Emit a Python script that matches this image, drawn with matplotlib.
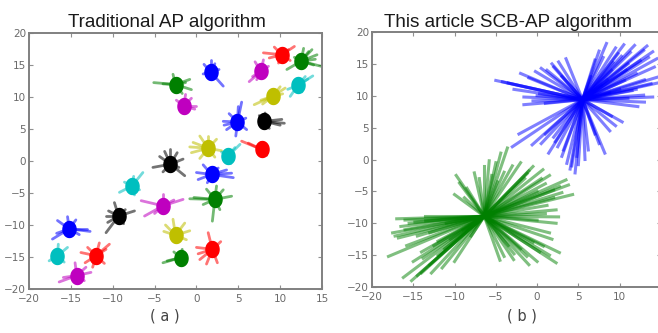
import numpy as np
import matplotlib
matplotlib.use("Agg")
import matplotlib.pyplot as plt
from matplotlib.path import Path

# ---------------- data: panel (a) ----------------
a_cx = [10.2, 12.5, 1.7, 7.7, -2.5, 12.1, -1.5, 9.1, 4.9, 8.1, 7.8, 1.4, 3.8,
        -3.1, 1.8, -7.7, 2.2, -4.0, -9.3, -15.2, -2.5, 1.9, -16.6, -12.0, -1.9, -14.3]
a_cy = [16.6, 15.6, 13.9, 14.0, 11.95, 11.8, 8.6, 10.1, 6.1, 6.2, 1.8, 2.0, 0.8,
        -0.5, -2.1, -3.9, -6.0, -7.0, -8.6, -10.6, -11.6, -13.8, -14.8, -14.8, -15.1, -17.9]
a_colors = ['r', 'g', 'b', 'm', 'g', 'c', 'm', 'y', 'b', 'k', 'r', 'y', 'c',
            'k', 'b', 'c', 'g', 'm', 'k', 'b', 'y', 'r', 'c', 'r', 'g', 'm']
# member offsets (dx, dy) for each cluster
a_members = [
    [(-2.2, 0.3), (1.5, 1.3), (1.0, -0.9), (-0.9, 1.2), (-0.4, -1.3), (-1.5, -0.5), (0.8, 0.8)],
    [(2.4, -0.8), (-1.7, -1.3), (0.3, 2.0), (1.3, 1.8), (1.9, 1.0), (1.7, 0.3), (0.9, 1.5), (-0.8, 0.6), (1.5, -0.6)],
    [(1.5, -2.2), (0.0, 1.9), (-0.8, 1.2), (1.0, 0.4), (-0.9, -0.3), (0.5, 1.3)],
    [(-1.4, -1.6), (0.3, 1.8), (-0.7, 1.5), (-1.0, -0.8), (0.9, 0.8), (-0.5, -1.3)],
    [(-2.6, 0.3), (1.7, 0.8), (1.9, -0.8), (-0.3, 1.6), (0.8, -1.4), (-1.5, 0.1), (1.2, 0.3)],
    [(1.8, 1.5), (-0.9, -1.7), (1.2, 1.0), (-1.2, -0.6), (0.9, 1.4), (0.5, -1.0)],
    [(1.5, 0.0), (0.2, 1.8), (0.9, 1.2), (-0.9, 0.9), (1.3, -0.5)],
    [(-2.2, -1.3), (1.5, 1.3), (-1.4, -0.6), (0.9, 1.5), (-1.2, -1.2), (1.2, 0.4)],
    [(0.5, 3.1), (0.1, 2.4), (-1.7, 0.1), (-1.3, -1.2), (-0.2, -2.2), (1.1, -1.2), (-1.0, 1.3), (-1.6, -0.5), (1.0, 0.6)],
    [(2.4, -0.3), (2.1, 0.3), (1.9, -0.6), (0.1, 1.3), (-0.6, 0.9), (0.6, -1.1)],
    [(-2.4, 1.3), (-1.6, 1.0), (-0.1, 1.1), (0.6, -0.9)],
    [(-1.8, 0.9), (-1.0, 1.9), (0.0, 1.9), (1.0, 1.4), (-2.0, -0.7), (1.6, -0.4), (-1.0, -1.6), (0.8, -1.4), (-2.2, 0.2)],
    [(1.4, 1.8), (0.8, 1.3), (-0.8, 0.6), (0.3, -1.2)],
    [(0.0, 2.3), (-0.7, 2.0), (-2.1, -0.5), (1.5, 0.8), (1.7, -1.8), (-1.3, 1.2), (0.8, 1.8), (-0.9, -1.2), (1.0, -0.5)],
    [(-1.8, 0.3), (2.6, -0.5), (2.4, 0.2), (-1.0, 1.5), (-1.6, -0.8), (1.8, 0.7), (0.8, 1.0), (-0.5, -1.3)],
    [(1.3, 2.1), (-1.5, -1.0), (0.2, 1.5), (-0.9, 0.6), (0.3, -1.4), (0.9, -0.6)],
    [(-3.0, 0.1), (-2.5, 0.3), (2.0, 0.5), (-0.3, -3.4), (0.2, 2.1), (-1.0, 1.6), (1.0, 1.5), (0.6, -1.6), (-1.4, -0.8)],
    [(2.4, 1.0), (-2.2, -1.6), (-2.6, 0.8), (0.0, 1.8), (1.3, 0.9), (-1.0, -1.2)],
    [(-0.5, 2.1), (1.9, 0.8), (-1.5, -2.6), (-1.5, 0.0), (-1.3, -1.0), (-1.2, 0.8), (0.8, 1.0), (0.6, -1.2)],
    [(2.5, -0.4), (2.1, 0.0), (-1.4, 1.3), (-2.0, -1.6), (-0.2, 1.9), (-1.5, -0.7), (0.8, 1.4), (1.2, -0.9)],
    [(-0.3, 2.5), (1.7, 0.7), (-1.4, 0.6), (1.1, 1.9), (-1.2, 1.6), (1.3, -0.7)],
    [(-1.9, 0.3), (-0.7, -2.3), (-0.5, 2.6), (-1.5, -1.6), (0.6, -2.1), (-1.7, -0.7), (1.0, 1.2)],
    [(0.1, 1.8), (1.2, 1.3), (-1.0, -0.8), (0.8, -1.0)],
    [(1.6, 1.8), (-1.8, 0.5), (-0.4, -1.8), (0.4, 2.0), (1.2, 1.0), (-1.3, -1.1), (1.0, -1.2), (-1.0, 1.3)],
    [(-2.1, -0.8), (-1.6, -0.5), (0.2, 1.3), (-0.8, 0.9)],
    [(-2.1, -1.0), (1.7, 0.5), (-0.2, 2.0), (-1.6, -0.3), (1.1, 1.3), (0.9, -0.8)],
]

# ---------------- data: panel (b) ----------------
b_blue_center = (5.5, 9.4)
b_blue_x = [-5.0, -3.5, -2.0, -1.0, 0.5, 1.2, 2.6, 2.0, -1.6, -1.6, -0.5, 0.3, 1.0, 3.0,
            -3.0, -0.6, 1.4, 0.5, 2.5, 3.6, 4.6, 4.2, 3.0, 2.0, 1.0, 4.8,
            8.2, 7.5, 10.3, 9.0, 7.0,
            8.4, 9.8, 11.8, 12.9, 14.2, 13.8, 12.2, 12.9, 10.6, 7.0, 7.5, 10.5, 11.0,
            13.5, 14.5, 14.8, 12.0, 9.0, 13.0, 11.5, 14.0, 8.5, 6.5, 10.0,
            9.5, 10.2, 11.3, 12.5, 13.3, 14.0, 14.6, 8.0, 9.2, 10.8, 12.0, 13.0, 11.0, 8.8, 7.8,
            -4.2, -2.8, -0.2, 1.8, 3.5, 0.0, -2.2, 2.2, 3.2, 4.0, 5.0, 5.8, 6.2, 8.8, 9.5]
b_blue_y = [12.4, 12.0, 13.5, 12.8, 14.3, 14.0, 15.3, 14.5, 9.8, 8.6, 9.2, 10.3, 8.8, 13.0,
            2.0, 2.3, 1.0, 2.5, 2.0, -0.6, -2.1, -1.0, 0.5, 3.5, 4.0, 0.5,
            1.0, 2.5, 5.9, 6.8, 4.0,
            18.2, 16.6, 17.9, 17.1, 14.5, 11.9, 8.3, 10.1, 12.4, 15.6, 17.0, 18.0, 15.0,
            16.0, 15.8, 13.0, 13.5, 14.0, 12.5, 10.8, 9.8, 12.5, 13.0, 11.0,
            17.5, 16.2, 16.8, 15.5, 17.8, 16.9, 12.0, 16.0, 15.2, 14.0, 11.0, 9.0, 9.6, 10.5, 11.6,
            12.2, 11.0, 13.8, 15.0, 15.8, 10.0, 4.0, 2.8, 1.5, -1.5, -0.8, 0.0, 1.5, 4.5, 5.3]
b_green_center = (-6.4, -8.9)
b_green_x = [-17.0, -16.8, -18.0, -16.2, -15.2, -14.0, -16.0, -13.6, -15.5, -14.5, -13.0, -17.2,
             -15.0, -13.0, -12.0, -11.5, -12.5, -16.5, -11.0, -14.0,
             -9.4, -7.6, -6.4, -8.5, -10.0, -7.0, -5.5,
             -3.6, -4.4, -5.0, -3.0, -4.0,
             3.5, 4.3, 2.7, 0.7, -0.5, 1.5, -1.5, 2.0, 0.0, 3.0, -1.0, 1.0,
             2.3, 2.3, 1.0, 0.0,
             2.7, 2.3, -1.25, -2.85, -4.0, 0.75, 1.5, -0.5, -2.0, 0.0, -3.5, 1.8,
             -17.5, -16.0, -14.8, -13.5, -12.0, -15.8, -14.5, -13.8, -12.8, -11.2, -10.5, -9.0,
             -8.0, -9.8, -8.8, -5.8, -4.8, -2.0, -1.2, 0.5, 2.0, 3.8, 1.2, 2.6, 1.5, 0.3,
             -1.0, -2.8, -4.5, -10.0]
b_green_y = [-9.3, -12.3, -15.2, -18.5, -19.0, -17.8, -11.0, -8.9, -10.0, -12.0, -11.5, -12.0,
             -16.0, -16.5, -15.0, -17.0, -13.5, -10.5, -10.0, -14.5,
             -3.7, -2.1, -1.0, -4.5, -5.5, -3.0, -2.5,
             1.8, 1.0, -0.5, -1.0, -2.0,
             -3.2, -5.5, -4.2, -1.6, -1.1, -2.5, -3.0, -6.0, -5.0, -5.2, -1.8, -3.8,
             -7.9, -10.0, -8.5, -9.5,
             -14.6, -16.2, -15.2, -15.7, -15.2, -13.6, -15.0, -13.0, -14.0, -16.0, -13.5, -12.5,
             -11.5, -9.5, -9.8, -9.6, -12.8, -13.5, -18.2, -15.5, -17.8, -14.0, -12.5, -11.0,
             -12.0, -2.5, -6.0, -0.2, -3.5, -0.5, -2.2, -3.0, -4.8, -4.0, -7.2, -9.0, -11.5, -14.5,
             -16.5, -14.8, -15.8, -16.0]

titles = ["Traditional AP algorithm", "This article SCB-AP algorithm"]
sublabels = ["( a )", "( b )"]
ticks_x_a = [-20, -15, -10, -5, 0, 5, 10, 15]
ticks_y = [-20, -15, -10, -5, 0, 5, 10, 15, 20]

# classic matplotlib colours
cmap = {'b': (0, 0, 1), 'g': (0, 0.5, 0), 'r': (1, 0, 0), 'c': (0, 0.75, 0.75),
        'm': (0.75, 0, 0.75), 'y': (0.75, 0.75, 0), 'k': (0, 0, 0)}

fig = plt.figure(figsize=(6.58, 3.33), dpi=100)
fig.patch.set_facecolor('white')

tickfont = ['Liberation Sans Narrow', 'DejaVu Sans']

def style(ax):
    for s in ax.spines.values():
        s.set_color('#808080')
        s.set_linewidth(1.4)
    ax.tick_params(direction='in', top=True, right=True, length=3, width=0.8,
                   color='#909090', labelcolor='#6a6a6a', labelsize=7.5, pad=2)
    ax.tick_params(axis='x', pad=3.5)
    for lab in ax.get_xticklabels() + ax.get_yticklabels():
        lab.set_family(tickfont)

# ellipse marker (slightly taller than wide)
t = np.linspace(0, 2 * np.pi, 60)
ell = Path(np.column_stack([0.82 * np.cos(t), np.sin(t)]), closed=True)

# ---- panel a ----
ax1 = fig.add_axes([0.0441, 0.1321, 0.4453, 0.7688])
for cx, cy, col, mem in zip(a_cx, a_cy, a_colors, a_members):
    c = cmap[col]
    for dx, dy in mem:
        ax1.plot([cx, cx + dx], [cy, cy + dy], color=c, alpha=0.55, lw=2.0,
                 solid_capstyle='round', zorder=2)
    ax1.plot([cx], [cy], marker=ell, ms=11.5, color=c, mec=c, zorder=3)
ax1.set_xlim(-20, 15)
ax1.set_ylim(-20, 20)
ax1.set_xticks(ticks_x_a)
ax1.set_yticks(ticks_y)
style(ax1)

# ---- panel b ----
ax2 = fig.add_axes([0.5653, 0.1381, 0.4392, 0.7658])
bx0, by0 = b_blue_center
for x, y in zip(b_blue_x, b_blue_y):
    ax2.plot([bx0, x], [by0, y], color=(0, 0, 1), alpha=0.5, lw=2.2, zorder=2)
gx0, gy0 = b_green_center
for x, y in zip(b_green_x, b_green_y):
    ax2.plot([gx0, x], [gy0, y], color=(0, 0.5, 0), alpha=0.5, lw=2.2, zorder=2)
ax2.set_xlim(-20, 15)
ax2.set_ylim(-20, 20)
ax2.set_xticks(ticks_x_a[:-1])
ax2.set_yticks(ticks_y)
style(ax2)

# titles and sub-labels
fig.text(167 / 658, 1 - 27 / 333, titles[0], ha='center', va='baseline',
         fontsize=13.6, family=['Liberation Sans', 'DejaVu Sans'], color='#1a1a1a')
fig.text(508 / 658, 1 - 27 / 333, titles[1], ha='center', va='baseline',
         fontsize=13.6, family=['Liberation Sans', 'DejaVu Sans'], color='#1a1a1a')
fig.text(165 / 658, 1 - 316 / 333, sublabels[0], ha='center', va='center',
         fontsize=10.5, family=['DejaVu Sans'], color='#444444')
fig.text(522 / 658, 1 - 316 / 333, sublabels[1], ha='center', va='center',
         fontsize=10.5, family=['DejaVu Sans'], color='#444444')

fig.savefig('out.png', dpi=100, facecolor='white')
